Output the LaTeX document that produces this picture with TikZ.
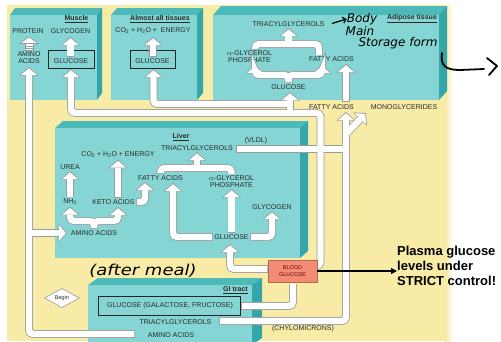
\documentclass[tikz,border=0pt]{standalone}
\usepackage{fontspec}
\setmainfont{Liberation Sans}
\newfontfamily\handfont{DejaVu Sans}
\usetikzlibrary{arrows.meta,shapes.geometric}
\definecolor{bgy}{HTML}{F7EBA6}
\definecolor{frontc}{HTML}{84D5D4}
\definecolor{topc}{HTML}{4DBABA}
\definecolor{sidec}{HTML}{34A5A8}
\definecolor{pg}{HTML}{9A9A9A}
\definecolor{salmon}{HTML}{F28C74}
\definecolor{txt}{HTML}{2A2A2A}
\newcommand\tealbox[6]{%
  \fill[topc] (#1,#2) -- (#1+#5,#2-#6) -- (#3+#5,#2-#6) -- (#3,#2) -- cycle;
  \fill[sidec] (#3,#2) -- (#3+#5,#2-#6) -- (#3+#5,#4-#6) -- (#3,#4) -- cycle;
  \fill[frontc] (#1,#2) rectangle (#3,#4);
}
\newcommand\pipeset{%
  % amino acids
  \draw[ppath,ptip] (135,334) -- (29,334) -- (29,67);
  \draw[ppath,ptip] (29,233) -- (67,233);
  % glucose
  \draw[ppath] (241,306) -- (293,306) -- (293,284);
  \draw[ppath,ptip] (268,269) -- (230,269) -- (230,244);
  \draw[ppath,ptip] (312,266) -- (320.5,266) -- (320.5,113) -- (71,113) -- (71,69);
  \draw[ppath,ptip] (290,113) -- (290,92);
  \draw[ppath,ptip] (290,104) -- (153.5,104) -- (153.5,69);
  % fats
  \draw[ppath,ptip] (219,321) -- (346,321) -- (346,112);
  \draw[ppath,ptip] (346,134) -- (366,113);
  \draw[ppath] (236,149) -- (346,149);
  \draw[ppath,ptip] (346,102) -- (346,64);
  % muscle and tissues
  \draw[ppath,ptip] (70.5,57) -- (70.5,37);
  \draw[ppath,ptip] (153,57) -- (153,37);
  % liver
  \draw[ppath,ptip] (lnh3.north) -- (lurea.south);
  \draw[ppath,ptip] (118,198) -- (lco2.south);
  \draw[ppath,ptip] (lketo.east) -- (145,202) -- (145,182);
  \draw[ppath,ptip] (laa.north) |- (70,221) -- (lnh3.south);
  \draw[ppath,ptip] (laa.north) |- (118,221) -- (118,207);
  \draw[ppath] (lfa.north) |- (231.5,168) -- (lagp.north);
  \draw[ppath,ptip] (197,168) -- (ltg.south);
  \draw[ppath,ptip] (lglu.west) -| (173,183);
  \draw[ppath,ptip] (lglu.north) -- (lagp.south);
  \draw[ppath,ptip] (lglu.east) -| (lgly.south);
  % adipose
  \draw[ppath] (255,49.5) -- (255,44) -- (319,44) -- (319,55);
  \draw[ppath,ptip] (288.5,44) -- (atg.south);
  \draw[ppath,ptip] (aglu.north) |- (255,75) -- (255,65);
  \draw[ppath,ptip] (aglu.north) |- (322,75) -- (322,65);
}
\begin{document}
\begin{tikzpicture}[x=1pt,y=-1pt,
  lbl/.style={font=\fontsize{7}{7}\selectfont, text=txt, inner sep=1.5pt, align=center},
  ttl/.style={font=\fontsize{7}{7}\selectfont\bfseries, text=txt, inner sep=0pt},
  pipeO/.style={draw=pg, line width=7.8pt, rounded corners=4pt},
  pipeI/.style={draw=white, line width=6.3pt, rounded corners=4pt, shorten <=0.75pt},
  tipO/.style={-{Triangle[width=19pt,length=8.5pt,line width=0pt]}},
  tipI/.style={-{Triangle[width=16pt,length=6.8pt,line width=0pt]}, shorten >=1.2pt},
  gframe/.style={draw=black!85, line width=0.9pt},
  hand/.style={font=\handfont\itshape\fontsize{12}{12}\selectfont, text=black, inner sep=0pt},
]
\useasboundingbox (0,0) rectangle (501,341);
\fill[white] (0,0) rectangle (501,341);
\fill[bgy] (7,5) rectangle (446,341);
\shade[left color=bgy, right color=white] (445.5,5) rectangle (453,341);
% boxes
\tealbox{10}{15}{97}{100}{5}{7}
\tealbox{111}{15}{197}{100}{6}{7}
\tealbox{213}{15}{439}{100}{8}{9}
\tealbox{55}{128}{300}{258}{8}{7}
\tealbox{88}{285}{252}{345}{10}{7}
% glucose frames
\draw[gframe] (48,50) rectangle (94,68);
\draw[gframe] (130,50) rectangle (175,68);
\draw[gframe] (98,296) rectangle (240,315);
% muscle
\node[ttl] (mt) at (76.5,19) {\underline{Muscle}};
\node[lbl] (mprot) at (28,31) {PROTEIN};
\node[lbl] (mgly) at (70.5,31) {GLYCOGEN};
\node[lbl] (maa) at (29,58) {AMINO\\ACIDS};
\node[lbl] (mglu) at (71,61.5) {GLUCOSE};
% almost all tissues
\node[ttl] (at) at (160,19) {\underline{Almost all tissues}};
\node[lbl] (aco2) at (153,31) {CO\textsubscript{2} + H\textsubscript{2}O + \ ENERGY};
\node[lbl] (aglu2) at (152.5,61.5) {GLUCOSE};
% adipose
\node[ttl] (adt) at (412,19) {\underline{Adipose tissue}};
\node[lbl] (atg) at (288.5,24) {TRIACYLGLYCEROLS};
\node[lbl] (aagp) at (249.5,56.5) {$\alpha$-GLYCEROL\\PHOSPHATE};
\node[lbl] (afa) at (331.5,59) {FATTY ACIDS};
\node[lbl] (aglu) at (288.5,87) {GLUCOSE};
% liver
\node[ttl] (lt) at (181,137) {\underline{Liver}};
\node[lbl] (ltg) at (197,148) {TRIACYLGLYCEROLS};
\node[lbl] (lco2) at (118,155) {CO\textsubscript{2} + H\textsubscript{2}O + ENERGY};
\node[lbl] (lurea) at (70,167) {UREA};
\node[lbl] (lfa) at (160.5,178) {FATTY ACIDS};
\node[lbl] (lagp) at (231.5,181.5) {$\alpha$-GLYCEROL\\PHOSPHATE};
\node[lbl] (lnh3) at (70,202) {NH\textsubscript{3}};
\node[lbl] (lketo) at (113.5,202) {KETO ACIDS};
\node[lbl] (lgly) at (272,207) {GLYCOGEN};
\node[lbl] (laa) at (94,233) {AMINO ACIDS};
\node[lbl] (lglu) at (231.5,237) {GLUCOSE};
% GI tract
\node[ttl] (gt) at (235.5,290) {\underline{GI tract}};
\node[lbl] (gglu) at (170,306) {GLUCOSE (GALACTOSE, FRUCTOSE)};
\node[lbl] (gtg) at (175.5,322) {TRIACYLGLYCEROLS};
\node[lbl] (gaa) at (171,335) {AMINO ACIDS};
% pipes: outline pass then fill pass
\tikzset{ppath/.style=pipeO, ptip/.style=tipO}
\pipeset
\tikzset{ppath/.style=pipeI, ptip/.style=tipI}
\pipeset
% labels outside boxes
\node[lbl] (xfa) at (331.5,107) {FATTY ACIDS};
\node[lbl] (xmg) at (404,107) {MONOGLYCERIDES};
\node[lbl] (lvldl) at (256,141) {(VLDL)};
\node[lbl] (chylo) at (303,329) {(CHYLOMICRONS)};
% striped arrow amino acids -> protein
\draw[pg, fill=white, line width=0.7pt] (25,43.5) rectangle (33,50.5);
\draw[pg, line width=0.6pt] (25,45.8) -- (33,45.8) (25,48.2) -- (33,48.2);
\draw[pg, fill=white, line width=0.7pt, line join=round] (19.5,43.5) -- (29,37) -- (38.5,43.5) -- cycle;
% begin
\node[diamond, draw=pg, fill=white, line width=0.6pt, minimum width=35pt, minimum height=13pt, inner sep=0pt, font=\fontsize{5.5}{6}\selectfont, text=txt] (begin) at (62,298) {Begin};
% blood glucose
\node[fill=salmon, draw=salmon!75!black, line width=0.5pt, minimum width=49pt, minimum height=22pt, inner sep=0pt, align=center, font=\fontsize{5.5}{6.5}\selectfont, text=red!45!black] (blood) at (292.5,271) {BLOOD\\GLUCOSE};
\node[anchor=north west, font=\fontsize{13}{15}\selectfont\bfseries, align=left, inner sep=0pt] (plasma) at (397,246) {Plasma glucose\\levels under\\STRICT control!};
\draw[line width=1.3pt, -{Triangle[length=6pt,width=6pt]}] (blood.east) -- (blood.east -| plasma.west);
% handwriting
\node[hand, font=\handfont\itshape\fontsize{15}{15}\selectfont, xscale=1.2] (meal) at (143,271) {(after meal)};
\node[hand] (body) at (362,19) {Body};
\node[hand] (main) at (360,31) {Main};
\node[hand] (store) at (398,43) {Storage form};
\coordinate (hs) at (332,23.5);
\draw[line width=1.2pt, -{Straight Barb[length=3pt,width=6pt]}] (hs) -- (body.west);
\coordinate (ha) at (442,53);
\coordinate (hb) at (484,69);
\draw[line width=1.8pt, line cap=round] (ha) .. controls (440,66) and (446,70) .. (460,70) -- (hb);
\draw[line width=1.8pt, line cap=round, line join=round] (487,58) -- (497,66) -- (489,75);
\end{tikzpicture}
\end{document}
